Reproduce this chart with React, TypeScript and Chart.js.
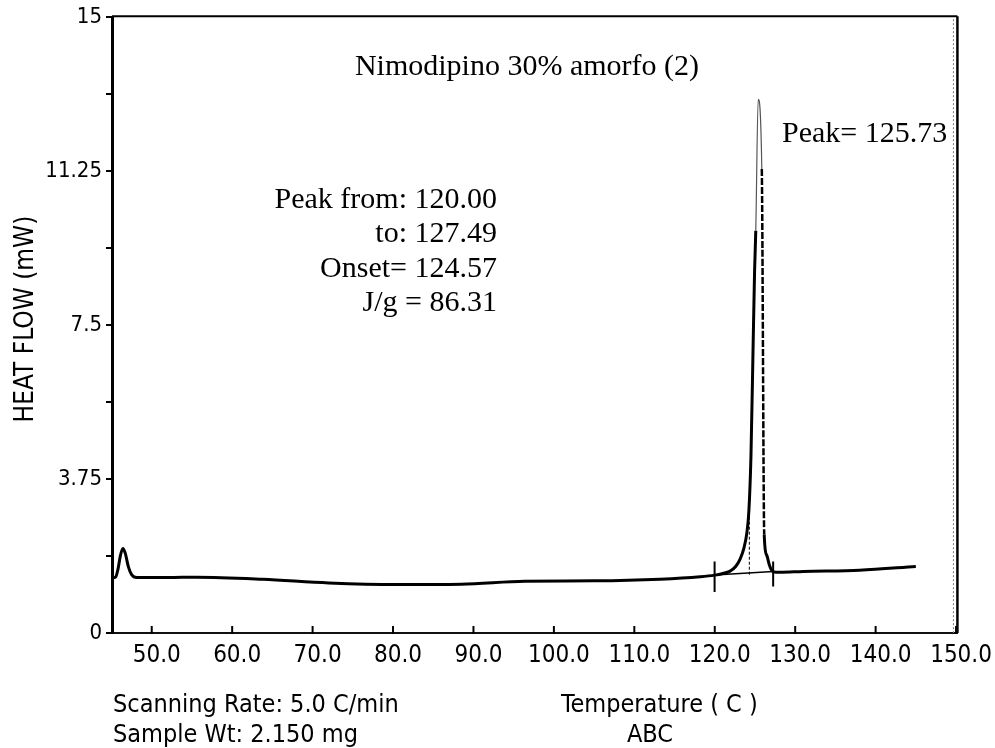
import React, { useEffect, useRef } from "react";
import { Chart, registerables } from "chart.js";

Chart.register(...registerables);

// ---- data ----
const temperatureC = [
  45.1, 45.5, 45.8, 46.1, 46.42, 46.7, 47.1, 47.5, 48.15,
  52.0, 55.6, 63.8, 72.0, 80.3, 88.5, 96.4, 105.0, 113.2, 118.2,
  120.0, 121.0, 121.85, 122.6, 123.15, 123.6, 124.0, 124.25, 124.5, 124.75,
  124.95, 125.1, 125.4, 125.85, 126.15, 126.45, 126.8, 127.1, 127.6, 128.1,
  131.0, 138.0, 145.0,
];
const heatFlowMW = [
  1.34, 1.36, 1.55, 1.88, 2.06, 1.95, 1.61, 1.42, 1.35,
  1.35, 1.36, 1.31, 1.22, 1.18, 1.19, 1.26, 1.27, 1.31, 1.37,
  1.41, 1.45, 1.5, 1.62, 1.8, 2.05, 2.45, 3.0, 4.3, 6.8,
  8.8, 9.8, 13.0, 11.3, 2.4, 1.9, 1.65, 1.52, 1.48, 1.48,
  1.5, 1.53, 1.62,
];

const peakLimitTemps = [119.98, 127.26];
const peakLimitLow = [1.0, 1.13];
const peakLimitHigh = [1.74, 1.74];
const baselineTemps = [119.98, 127.26];
const baselineValues = [1.41, 1.5];
const onsetTemp = 124.3;
const onsetRange = [1.42, 3.3];

const xTickValues = [50, 60, 70, 80, 90, 100, 110, 120, 130, 140, 150];
const yTickValues = [0, 1.875, 3.75, 5.625, 7.5, 9.375, 11.25, 13.125, 15];
const yLabelValues = [0, 3.75, 7.5, 11.25, 15];

const chartTitle = "Nimodipino 30% amorfo (2)";
const peakLabel = "Peak= 125.73";
const annotationLines = ["Peak from: 120.00", "to: 127.49", "Onset= 124.57", "J/g = 86.31"];
const yAxisTitle = "HEAT FLOW (mW)";
const footerLeft = ["Scanning Rate: 5.0 C/min", "Sample Wt: 2.150 mg"];
const footerRight = ["Temperature ( C )", "ABC"];

const SANS = "'DejaVu Sans Condensed', 'DejaVu Sans', sans-serif";
const SERIF = "'Liberation Serif', 'Times New Roman', serif";

const decorPlugin = {
  id: "decor",
  afterDraw(chart: any) {
    const { ctx, chartArea, scales } = chart;
    const xs = scales.x;
    ctx.save();
    // frame: top and right
    ctx.strokeStyle = "#000";
    ctx.lineWidth = 2;
    ctx.beginPath();
    ctx.moveTo(chartArea.left, chartArea.top - 1);
    ctx.lineTo(chartArea.right, chartArea.top - 1);
    ctx.stroke();
    ctx.lineWidth = 2.5;
    ctx.beginPath();
    ctx.moveTo(chartArea.right, chartArea.top - 1);
    ctx.lineTo(chartArea.right, chartArea.bottom);
    ctx.stroke();
    ctx.lineWidth = 1;
    ctx.strokeStyle = "#777";
    ctx.setLineDash([2, 2]);
    ctx.beginPath();
    ctx.moveTo(chartArea.right - 4, chartArea.top + 2);
    ctx.lineTo(chartArea.right - 4, chartArea.bottom);
    ctx.stroke();
    ctx.setLineDash([]);
    // inward x ticks
    ctx.strokeStyle = "#000";
    ctx.lineWidth = 2;
    xTickValues.forEach((v) => {
      const px = xs.getPixelForValue(v);
      ctx.beginPath();
      ctx.moveTo(px, chartArea.bottom + 1);
      ctx.lineTo(px, chartArea.bottom - 7);
      ctx.stroke();
    });
    // texts
    ctx.fillStyle = "#000";
    ctx.textBaseline = "alphabetic";
    ctx.font = `30px ${SERIF}`;
    ctx.textAlign = "center";
    ctx.fillText(chartTitle, 527, 75);
    ctx.textAlign = "left";
    ctx.fillText(peakLabel, 782, 142);
    ctx.textAlign = "right";
    annotationLines.forEach((t, i) => ctx.fillText(t, 497, 208 + i * 34.3));

    ctx.font = `25px ${SANS}`;
    ctx.textAlign = "left";
    ctx.fillText(footerLeft[0], 113, 712);
    ctx.fillText(footerLeft[1], 113, 742);
    ctx.fillText(footerRight[0], 561, 712);
    ctx.textAlign = "center";
    ctx.fillText(footerRight[1], 650, 742);

    ctx.translate(33, 319);
    ctx.rotate(-Math.PI / 2);
    ctx.font = `26px ${SANS}`;
    ctx.textAlign = "center";
    ctx.fillText(yAxisTitle, 0, 0);
    ctx.restore();
  },
};

export default function App() {
  const canvasRef = useRef<HTMLCanvasElement | null>(null);

  useEffect(() => {
    if (!canvasRef.current) return;
    const line = (data: { x: number; y: number }[], extra: any = {}) => ({
      data,
      borderColor: "#000",
      borderWidth: 2,
      pointRadius: 0,
      fill: false,
      tension: 0,
      ...extra,
    });
    const chart = new Chart(canvasRef.current, {
      type: "line",
      data: {
        datasets: [
          line(
            temperatureC.map((t, i) => ({ x: t, y: heatFlowMW[i] })),
            {
              borderWidth: 3,
              cubicInterpolationMode: "monotone",
              segment: {
                borderWidth: (c: any) => (c.p0.parsed.y > 9.5 && c.p1.parsed.y > 9.5 ? 1.2 : c.p0.parsed.y > 9.5 ? 2.5 : undefined),
                borderColor: (c: any) => (c.p0.parsed.y > 9.5 && c.p1.parsed.y > 9.5 ? "#555" : undefined),
                borderDash: (c: any) => (c.p0.parsed.y > 11 && c.p1.parsed.y < 3 ? [7, 2] : undefined),
              },
            }
          ),
          line(baselineTemps.map((t, i) => ({ x: t, y: baselineValues[i] })), { borderWidth: 1.5 }),
          line([{ x: peakLimitTemps[0], y: peakLimitLow[0] }, { x: peakLimitTemps[0], y: peakLimitHigh[0] }]),
          line([{ x: peakLimitTemps[1], y: peakLimitLow[1] }, { x: peakLimitTemps[1], y: peakLimitHigh[1] }]),
          line([{ x: onsetTemp, y: onsetRange[0] }, { x: onsetTemp, y: onsetRange[1] }], {
            borderWidth: 1,
            borderDash: [3, 2],
          }),
        ],
      },
      options: {
        animation: false,
        responsive: false,
        maintainAspectRatio: false,
        layout: { padding: { top: 16, right: 33, left: 0, bottom: 0 } },
        plugins: { legend: { display: false }, tooltip: { enabled: false }, title: { display: false } },
        scales: {
          x: {
            type: "linear",
            min: 45.06,
            max: 150.17,
            afterBuildTicks: (scale: any) => {
              scale.ticks = xTickValues.map((v) => ({ value: v }));
            },
            afterFit: (scale: any) => {
              scale.height = 115;
            },
            grid: { display: false, drawTicks: false },
            border: { display: true, color: "#111", width: 2 },
            ticks: {
              color: "#000",
              padding: 8,
              labelOffset: 5,
              maxRotation: 0,
              autoSkip: false,
              font: { family: SANS, size: 24 },
              callback: (v: any) => Number(v).toFixed(1),
            },
          },
          y: {
            type: "linear",
            min: 0,
            max: 15,
            afterBuildTicks: (scale: any) => {
              scale.ticks = yTickValues.map((v) => ({ value: v }));
            },
            afterFit: (scale: any) => {
              scale.width = 112;
            },
            grid: { drawOnChartArea: false, drawTicks: true, tickLength: 6, color: "#000", lineWidth: 2 },
            border: { display: true, color: "#000", width: 3 },
            ticks: {
              color: "#000",
              padding: 4,
              autoSkip: false,
              font: { family: SANS, size: 22 },
              callback: (v: any) => (yLabelValues.includes(Number(v)) ? String(v) : ""),
            },
          },
        },
      },
      plugins: [decorPlugin],
    } as any);
    return () => chart.destroy();
  }, []);

  return (
    <div style={{ position: "absolute", left: 0, top: 0, width: 995, height: 748, background: "#fff" }}>
      <canvas ref={canvasRef} width={995} height={748} />
    </div>
  );
}
